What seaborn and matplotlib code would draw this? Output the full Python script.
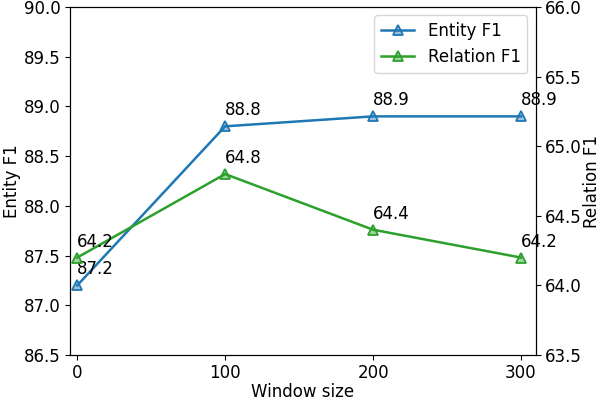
import matplotlib
matplotlib.use("Agg")
import matplotlib.pyplot as plt
import seaborn as sns
import pandas as pd

window_sizes = [0, 100, 200, 300]
entity_f1 = [87.2, 88.8, 88.9, 88.9]
relation_f1 = [64.2, 64.8, 64.4, 64.2]

df = pd.DataFrame({"window": window_sizes, "entity": entity_f1, "relation": relation_f1})

blue = "#1f77b4"
green = "#2ca02c"

plt.rcParams["font.size"] = 12

fig, ax = plt.subplots(figsize=(6.02, 4.0), dpi=100)
fig.subplots_adjust(left=0.116, right=0.890, bottom=0.1125, top=0.9825)
ax2 = ax.twinx()

sns.lineplot(data=df, x="window", y="entity", ax=ax, color=blue, marker="^",
             linewidth=1.8, markersize=7, markeredgewidth=1.3, markeredgecolor=blue,
             markerfacecolor=(0.12, 0.47, 0.71, 0.45), label="Entity F1", legend=False)
sns.lineplot(data=df, x="window", y="relation", ax=ax2, color=green, marker="^",
             linewidth=1.8, markersize=7, markeredgewidth=1.3, markeredgecolor=green,
             markerfacecolor=(0.17, 0.63, 0.17, 0.45), label="Relation F1", legend=False)

for x, y in zip(window_sizes, entity_f1):
    ax.annotate(f"{y:.1f}", (x, y), xytext=(0, 5), textcoords="offset points",
                ha="left", va="bottom", fontsize=12)
for x, y in zip(window_sizes, relation_f1):
    ax2.annotate(f"{y:.1f}", (x, y), xytext=(0, 5), textcoords="offset points",
                 ha="left", va="bottom", fontsize=12)

ax.set_xlim(-5, 310)
ax.set_xticks(window_sizes)
ax.set_ylim(86.5, 90.0)
ax.set_yticks([86.5, 87.0, 87.5, 88.0, 88.5, 89.0, 89.5, 90.0])
ax2.set_ylim(63.5, 66.0)
ax2.set_yticks([63.5, 64.0, 64.5, 65.0, 65.5, 66.0])
ax.set_xlabel("Window size", fontsize=12, labelpad=1)
ax.set_ylabel("Entity F1", fontsize=12, labelpad=2)
ax2.set_ylabel("Relation F1", fontsize=12, labelpad=1)
ax.tick_params(labelsize=12, length=3.5, pad=3)
ax2.tick_params(labelsize=12, length=3.5, pad=3)

h1, l1 = ax.get_legend_handles_labels()
h2, l2 = ax2.get_legend_handles_labels()
ax2.legend(h1 + h2, l1 + l2, loc="upper right", fontsize=12)

fig.savefig("out.png", dpi=100)
